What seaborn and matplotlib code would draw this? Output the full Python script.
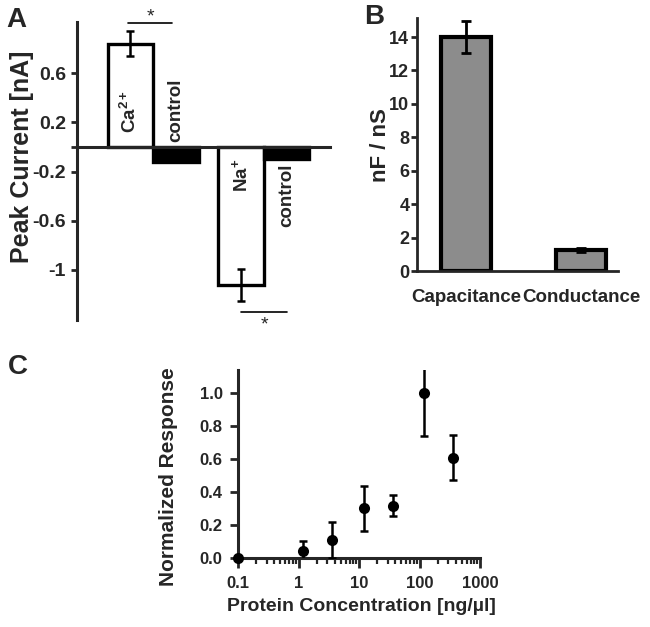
import numpy as np
import pandas as pd
import matplotlib
matplotlib.use("Agg")
import matplotlib.pyplot as plt
import seaborn as sns

# ---------------- data ----------------
# Panel A
a_groups = ["Ca", "Na"]
a_conditions = ["ion", "control"]
a_ion_values = [0.84, -1.12]
a_ion_errors = [0.10, 0.13]
a_control_values = [-0.12, -0.10]
a_ion_labels = ["Ca$^{2+}$", "Na$^{+}$"]
a_control_label = "control"
a_yticks = [0.6, 0.2, 0, -0.2, -0.6, -1]
a_yticklabels = ["0.6", "0.2", "", "-0.2", "-0.6", "-1"]

# Panel B
b_categories = ["Capacitance", "Conductance"]
b_values = [14.0, 1.27]
b_errors = [0.97, 0.12]
b_yticks = [0, 2, 4, 6, 8, 10, 12, 14]

# Panel C
c_conc = [0.1, 1.2, 3.6, 12, 37, 120, 360]
c_resp = [0.0, 0.04, 0.11, 0.30, 0.316, 1.0, 0.606]
c_err = [0.0, 0.06, 0.11, 0.137, 0.063, 0.264, 0.137]
c_xticks = [0.1, 1, 10, 100, 1000]
c_xticklabels = ["0.1", "1", "10", "100", "1000"]
c_yticks = [0.0, 0.2, 0.4, 0.6, 0.8, 1.0]
c_yticklabels = ["0.0", "0.2", "0.4", "0.6", "0.8", "1.0"]

# ---------------- style ----------------
sns.set_style("ticks")
plt.rcParams["font.family"] = ["Liberation Sans", "DejaVu Sans"]
plt.rcParams["font.weight"] = "bold"
plt.rcParams["axes.labelweight"] = "bold"
plt.rcParams["mathtext.fontset"] = "custom"
plt.rcParams["mathtext.rm"] = "Liberation Sans:bold"
plt.rcParams["mathtext.it"] = "Liberation Sans:bold"
plt.rcParams["mathtext.bf"] = "Liberation Sans:bold"
plt.rcParams["mathtext.default"] = "rm"
plt.rcParams["axes.unicode_minus"] = False

W, H = 650, 627
fig = plt.figure(figsize=(6.5, 6.27), dpi=100)

def px_axes(left, top, right, bottom):
    return fig.add_axes([left / W, 1 - bottom / H, (right - left) / W, (bottom - top) / H])

# ================= Panel A =================
axA = px_axes(77, 22, 330, 320)
dfA = pd.DataFrame({
    "group": a_groups * 2,
    "cond": [a_conditions[0]] * 2 + [a_conditions[1]] * 2,
    "value": a_ion_values + a_control_values,
})
sns.barplot(data=dfA, x="group", y="value", hue="cond", order=a_groups,
            hue_order=a_conditions, palette=["white", "black"], saturation=1,
            edgecolor="black", linewidth=2.4, width=0.82, dodge=True,
            errorbar=None, legend=False, ax=axA)
bars = sorted(axA.patches, key=lambda p: p.get_x())
centers = [p.get_x() + p.get_width() / 2 for p in bars]
ion_x = [centers[0], centers[2]]
ctl_x = [centers[1], centers[3]]
axA.errorbar(ion_x, a_ion_values, yerr=a_ion_errors, fmt="none", ecolor="black",
             elinewidth=1.8, capsize=3, capthick=1.8, zorder=4)
axA.set_xlim(-0.685, 1.595)
axA.set_ylim(-1.407, 1.016)
axA.set_yticks(a_yticks)
axA.set_yticklabels(a_yticklabels)
axA.tick_params(axis="y", labelsize=14, length=4, width=2, pad=4)
axA.tick_params(axis="x", length=0, labelbottom=False)
axA.set_xlabel("")
for s in ["top", "right"]:
    axA.spines[s].set_visible(False)
axA.spines["bottom"].set_position(("data", 0))
axA.spines["left"].set_linewidth(2.2)
axA.spines["bottom"].set_linewidth(2.2)
axA.set_ylabel("Peak Current [nA]", fontsize=18, va="center")
axA.yaxis.set_label_coords(-0.217, 0.547)

# labels inside/near bars
axA.text(ion_x[0], 0.285, a_ion_labels[0], rotation=90, ha="center", va="center", fontsize=13.5)
axA.text(ctl_x[0], 0.30, a_control_label, rotation=90, ha="center", va="center", fontsize=13.5)
axA.text(ion_x[1], -0.228, a_ion_labels[1], rotation=90, ha="center", va="center", fontsize=13.5)
axA.text(ctl_x[1], -0.39, a_control_label, rotation=90, ha="center", va="center", fontsize=13.5)

# significance markers
axA.plot([ion_x[0] - 0.02, ctl_x[0] - 0.03], [1.008, 1.008], color="black", lw=1.2, clip_on=False)
axA.text((ion_x[0] + ctl_x[0]) / 2 - 0.02, 1.06, "*", ha="center", va="center",
         fontsize=14, fontweight="normal", clip_on=False)
axA.plot([ion_x[1], ctl_x[1]], [-1.34, -1.34], color="black", lw=1.2, clip_on=False)
axA.text((ion_x[1] + ctl_x[1]) / 2, -1.45, "*", ha="center", va="center",
         fontsize=14, fontweight="normal", clip_on=False)

# ================= Panel B =================
axB = px_axes(417, 18, 618, 271)
dfB = pd.DataFrame({"cat": b_categories, "value": b_values})
sns.barplot(data=dfB, x="cat", y="value", color="#8c8c8c", saturation=1,
            edgecolor="black", linewidth=3, width=0.44, errorbar=None, ax=axB)
bx = [p.get_x() + p.get_width() / 2 for p in sorted(axB.patches, key=lambda p: p.get_x())]
axB.errorbar(bx, b_values, yerr=b_errors, fmt="none", ecolor="black",
             elinewidth=2, capsize=3.3, capthick=2, zorder=4)
axB.set_xlim(-0.426, 1.32)
axB.set_ylim(0, 15.14)
axB.set_yticks(b_yticks)
axB.tick_params(axis="y", labelsize=13, length=4, width=2, pad=1.5)
axB.tick_params(axis="x", labelsize=13.5, length=0, pad=13)
for lab in axB.get_xticklabels():
    lab.set_fontweight("bold")
axB.set_xlabel("")
for s in ["top", "right"]:
    axB.spines[s].set_visible(False)
axB.spines["left"].set_linewidth(2)
axB.spines["bottom"].set_linewidth(2)
axB.set_ylabel("nF / nS", fontsize=16, va="center")
axB.yaxis.set_label_coords(-0.184, 0.498)

# ================= Panel C =================
axC = px_axes(238, 370, 480, 558)
axC.set_xscale("log")
axC.errorbar(c_conc, c_resp, yerr=c_err, fmt="none", ecolor="black",
             elinewidth=1.8, capsize=3, capthick=1.8, zorder=3)
sns.scatterplot(x=c_conc, y=c_resp, color="black", s=64, edgecolor="black",
                linewidth=0, zorder=4, clip_on=False, ax=axC)
axC.set_xlim(0.1, 1000)
axC.set_ylim(0, 1.136)
axC.set_xticks(c_xticks)
axC.set_xticklabels(c_xticklabels)
axC.set_yticks(c_yticks)
axC.set_yticklabels(c_yticklabels)
axC.tick_params(axis="x", which="major", labelsize=12, length=7, width=2, pad=6)
axC.tick_params(axis="x", which="minor", length=4, width=1.6)
axC.tick_params(axis="y", labelsize=12, length=6, width=2, pad=5)
for s in ["top", "right"]:
    axC.spines[s].set_visible(False)
axC.spines["left"].set_linewidth(2.2)
axC.spines["bottom"].set_linewidth(2.2)
axC.set_ylabel("Normalized Response", fontsize=15, va="center")
axC.yaxis.set_label_coords(-0.289, 0.431)
axC.set_xlabel("Protein Concentration [ng/µl]", fontsize=14, va="center")
axC.xaxis.set_label_coords(0.512, -0.26)

# panel letters
fig.text(16 / W, 1 - 20 / H, "A", ha="center", va="center", fontsize=20, fontweight="bold")
fig.text(374 / W, 1 - 17 / H, "B", ha="center", va="center", fontsize=20, fontweight="bold")
fig.text(18 / W, 1 - 367 / H, "C", ha="center", va="center", fontsize=20, fontweight="bold")

fig.savefig("out.png", dpi=100)
